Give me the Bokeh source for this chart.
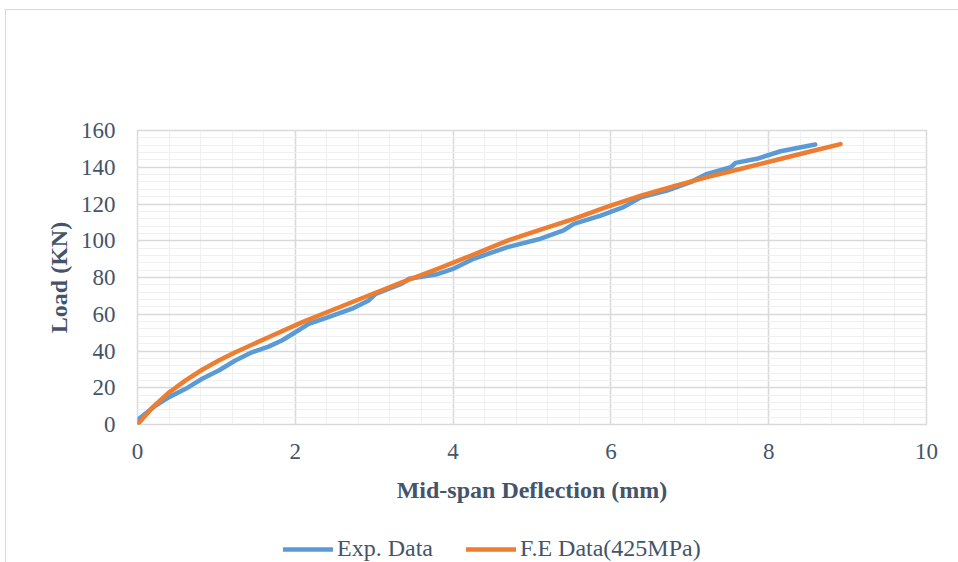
from bokeh.plotting import figure
from bokeh.layouts import column
from bokeh.embed import file_html
from bokeh.resources import INLINE
from bokeh.models import (Range1d, SingleIntervalTicker, Legend, LegendItem,
                          InlineStyleSheet)

# ---- data ----
exp_defl = [0.0, 0.02, 0.23, 0.40, 0.61, 0.82, 1.03, 1.24, 1.45, 1.66, 1.83, 2.0, 2.17,
            2.42, 2.72, 2.93, 3.02, 3.35, 3.44, 3.78, 3.99, 4.26, 4.69, 5.11, 5.40,
            5.53, 5.87, 6.16, 6.38, 6.71, 7.01, 7.22, 7.52, 7.58, 7.85, 8.15, 8.59]
exp_load = [0.0, 3.1, 10.3, 14.9, 19.4, 24.9, 29.4, 34.8, 39.3, 42.4, 45.7, 50.2, 54.8,
            58.4, 63.0, 67.5, 71.1, 76.6, 79.3, 81.6, 84.5, 90.2, 96.5, 101.1, 105.6,
            109.2, 113.7, 118.3, 123.7, 127.3, 131.9, 136.4, 140.0, 142.4, 144.6, 148.7, 152.4]

fe_defl = [0.0, 0.19, 0.40, 0.61, 0.82, 1.03, 1.24, 1.66, 2.09, 2.51, 2.93, 3.35, 3.78,
           4.26, 4.69, 5.11, 5.53, 5.95, 6.38, 6.80, 7.22, 7.65, 8.07, 8.50, 8.91]
fe_load = [0.0, 9.3, 17.4, 24.0, 29.8, 34.8, 39.3, 47.5, 55.7, 63.0, 70.2, 77.4, 84.3,
           92.5, 100.1, 106.0, 111.9, 118.4, 124.6, 129.7, 134.6, 139.2, 143.7, 148.3, 152.6]

series_names = ["Exp. Data", "F.E Data(425MPa)"]
x_title = "Mid-span Deflection (mm)"
y_title = "Load (KN)"

BLUE = "#5b9bd5"
ORANGE = "#ed7d31"
TEXT = "#44546a"
FONT = "Liberation Serif"

# ---- main chart ----
p = figure(width=958, height=512, output_backend="svg", toolbar_location=None,
           x_range=Range1d(0, 10), y_range=Range1d(0, 160),
           min_border_left=137, min_border_right=32, min_border_top=130,
           min_border_bottom=88)

p.outline_line_color = "#d9d9d9"
p.outline_line_width = 1.5
p.background_fill_color = "white"
p.border_fill_color = "white"

p.xaxis.ticker = SingleIntervalTicker(interval=2, num_minor_ticks=5)
p.yaxis.ticker = SingleIntervalTicker(interval=20, num_minor_ticks=5)
for ax in (p.xaxis[0], p.yaxis[0]):
    ax.axis_line_color = None
    ax.major_tick_line_color = None
    ax.minor_tick_line_color = None
    ax.major_label_text_font = FONT
    ax.major_label_text_font_size = "23px"
    ax.major_label_text_color = TEXT
    ax.axis_label_text_font = FONT
    ax.axis_label_text_font_size = "24px"
    ax.axis_label_text_font_style = "bold"
    ax.axis_label_text_color = TEXT
p.xaxis.axis_label = x_title
p.yaxis.axis_label = y_title
p.xaxis.major_label_standoff = 13
p.xaxis.axis_label_standoff = 15
p.yaxis.major_label_standoff = 16
p.yaxis.axis_label_standoff = 6

for g in (p.xgrid[0], p.ygrid[0]):
    g.grid_line_color = "#d9d9d9"
    g.grid_line_width = 1.5
    g.minor_grid_line_color = "#f0f0f0"
    g.minor_grid_line_width = 1.2

p.line(exp_defl, exp_load, line_color=BLUE, line_width=4.5, line_join="round", line_cap="round")
p.line(fe_defl, fe_load, line_color=ORANGE, line_width=4.5, line_join="round", line_cap="round")

# ---- legend strip below the chart (its own view window shows no data) ----
lg = figure(width=958, height=50, output_backend="svg", toolbar_location=None,
            x_range=Range1d(100, 101), y_range=Range1d(1000, 1001),
            min_border=0, x_axis_location=None, y_axis_location=None)
lg.outline_line_color = None
lg.grid.visible = False
lg.border_fill_color = "white"
k_exp = lg.line(exp_defl, exp_load, line_color=BLUE, line_width=4.5, line_cap="round")
k_fe = lg.line(fe_defl, fe_load, line_color=ORANGE, line_width=4.5, line_cap="round")

legend = Legend(items=[LegendItem(label=series_names[0], renderers=[k_exp]),
                       LegendItem(label=series_names[1], renderers=[k_fe])],
                orientation="horizontal", location=(146, 0),
                label_text_font=FONT, label_text_font_size="24px", label_text_color=TEXT,
                glyph_width=50, glyph_height=20, spacing=33, label_standoff=4,
                border_line_color=None, background_fill_alpha=0, padding=0, margin=0)
lg.add_layout(legend, "center")

page = column(p, lg, spacing=0)
page.stylesheets = [InlineStyleSheet(css="""
:host::after { content: ""; position: absolute; left: 5px; top: 9px; right: 0; bottom: 0;
  border-left: 1.5px solid #d9d9d9; border-top: 1.5px solid #d9d9d9; pointer-events: none; }
""")]

open("out.html", "w").write(file_html(page, INLINE))
